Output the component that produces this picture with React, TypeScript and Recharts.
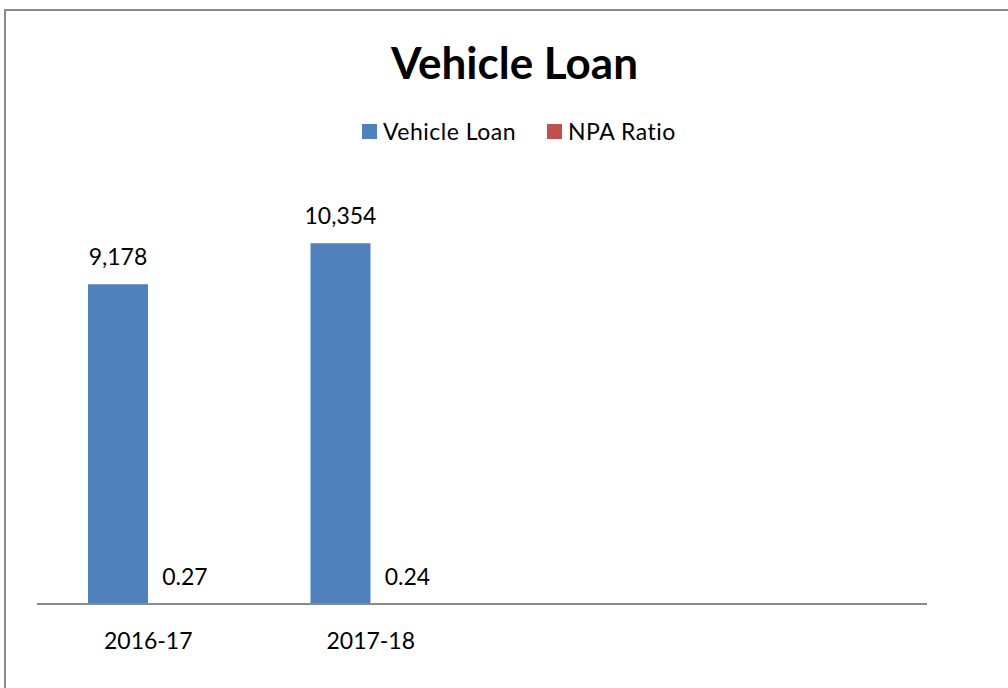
import React from "react";
import { BarChart, Bar, XAxis, YAxis, Legend, LabelList } from "recharts";

const categories = ["2016-17", "2017-18", " ", "  "];
const vehicleLoan: (number | null)[] = [9178, 10354, null, null];
const npaRatio: (number | null)[] = [0.27, 0.24, null, null];
const seriesNames = ["Vehicle Loan", "NPA Ratio"];
const seriesColors = ["#4F81BD", "#C0504D"];
const yDomain: [number, number] = [0, 12000];
const title = "Vehicle Loan";

const data = categories.map((c, i) => ({
  category: c,
  vehicle: vehicleLoan[i],
  npa: npaRatio[i],
}));

const FONT = "Lato, 'Liberation Sans', sans-serif";

const makeLabel = (fmt: (v: number) => string, dx: number) => (props: any) => {
  const { x, y, width, value } = props;
  if (value === null || value === undefined) return null;
  return (
    <text
      x={Number(x) + Number(width) / 2 + dx}
      y={Number(y) - 19}
      textAnchor="middle"
      fontFamily={FONT}
      fontSize={23}
      fill="#000"
    >
      {fmt(Number(value))}
    </text>
  );
};

const renderTick = (props: any) => {
  const { x, y, payload } = props;
  return (
    <text x={x} y={y + 37} textAnchor="middle" fontFamily={FONT} fontSize={23} fill="#000">
      {payload.value}
    </text>
  );
};

const renderLegend = () => (
  <div style={{ position: "relative", height: 0 }}>
    <div
      style={{
        position: "absolute",
        top: 117,
        left: 362,
        display: "flex",
        alignItems: "center",
        fontFamily: FONT,
        fontSize: 23,
        letterSpacing: 0.5,
        color: "#000",
        whiteSpace: "nowrap",
      }}
    >
      {seriesNames.map((n, i) => (
        <div key={n} style={{ display: "flex", alignItems: "center", marginRight: 31 }}>
          <span style={{ width: 15, height: 15, background: seriesColors[i], display: "inline-block", marginRight: 6 }} />
          <span>{n}</span>
        </div>
      ))}
    </div>
  </div>
);

export default function App() {
  return (
    <div style={{ position: "absolute", left: 0, top: 0, width: 1008, height: 688, overflow: "hidden", background: "#fff" }}>
      <div
        style={{
          position: "absolute",
          left: 4,
          top: 9,
          width: 1100,
          height: 800,
          border: "2px solid #8a8a8a",
          boxSizing: "border-box",
        }}
      />
      <div
        style={{
          position: "absolute",
          left: 0,
          top: 36,
          width: 1029,
          textAlign: "center",
          fontFamily: FONT,
          fontWeight: 700,
          fontSize: 44,
          lineHeight: "52px",
          color: "#000",
        }}
      >
        {title}
      </div>
      <div style={{ position: "absolute", left: 0, top: 0 }}>
        <BarChart
          width={1008}
          height={688}
          data={data}
          margin={{ top: 186, right: 81, bottom: 54, left: 37 }}
          barGap={0}
          barCategoryGap={51}
        >
          <XAxis
            dataKey="category"
            height={30}
            axisLine={{ stroke: "#8a8a8a", strokeWidth: 2 }}
            tickLine={false}
            tick={renderTick}
            interval={0}
          />
          <YAxis hide domain={yDomain} />
          <Legend verticalAlign="top" content={renderLegend} wrapperStyle={{ height: 0, top: 0, left: 0 }} />
          <Bar dataKey="vehicle" name={seriesNames[0]} fill={seriesColors[0]} isAnimationActive={false}>
            <LabelList dataKey="vehicle" content={makeLabel((v) => v.toLocaleString("en-US"), 0)} />
          </Bar>
          <Bar dataKey="npa" name={seriesNames[1]} fill={seriesColors[1]} isAnimationActive={false}>
            <LabelList dataKey="npa" content={makeLabel((v) => v.toFixed(2), 7)} />
          </Bar>
        </BarChart>
      </div>
    </div>
  );
}
